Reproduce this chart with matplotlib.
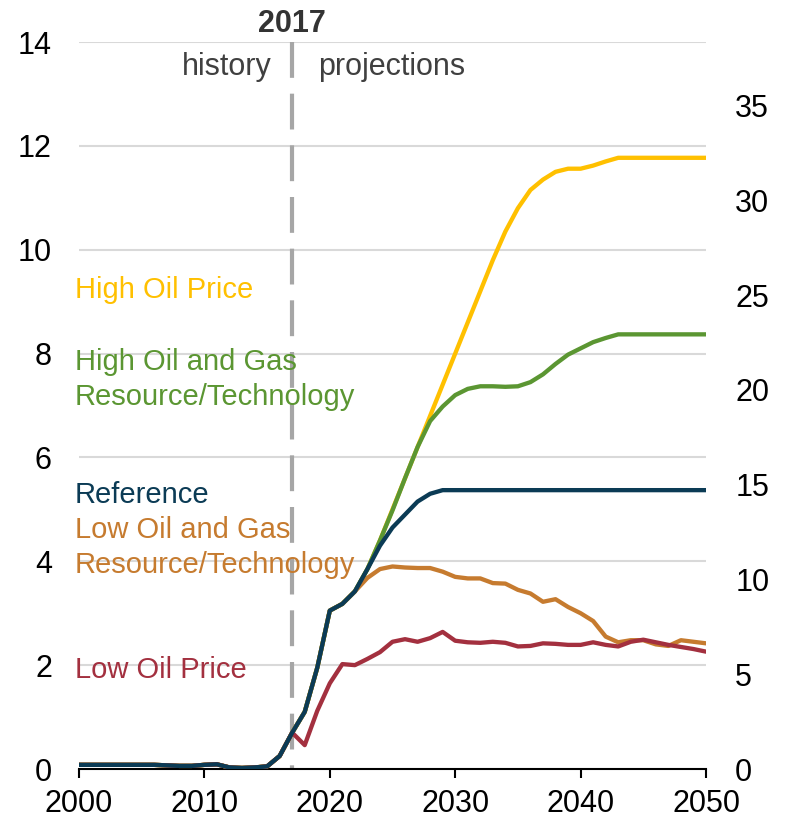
import matplotlib
matplotlib.use("Agg")
import matplotlib.pyplot as plt

plt.rcParams['font.family'] = ['Liberation Sans', 'DejaVu Sans']

years = list(range(2000, 2051))

history = [0.08, 0.08, 0.08, 0.08, 0.08, 0.08, 0.08, 0.07, 0.06, 0.06,
           0.08, 0.09, 0.03, 0.02, 0.03, 0.05, 0.25, 0.70]

reference_proj = [1.10, 1.95, 3.05, 3.18, 3.42, 3.85, 4.30, 4.65, 4.90, 5.15,
                  5.30, 5.37, 5.37, 5.37, 5.37, 5.37, 5.37, 5.37, 5.37, 5.37,
                  5.37, 5.37, 5.37, 5.37, 5.37, 5.37, 5.37, 5.37, 5.37, 5.37,
                  5.37, 5.37, 5.37]

low_ogr_proj = [1.10, 1.95, 3.05, 3.18, 3.42, 3.68, 3.85, 3.90, 3.88, 3.87,
                3.87, 3.80, 3.70, 3.67, 3.67, 3.58, 3.57, 3.45, 3.38, 3.22,
                3.27, 3.12, 3.00, 2.85, 2.55, 2.44, 2.48, 2.48, 2.40, 2.37,
                2.48, 2.45, 2.42]

low_price_proj = [0.46, 1.12, 1.65, 2.02, 2.00, 2.12, 2.25, 2.45, 2.50, 2.45,
                  2.52, 2.64, 2.47, 2.44, 2.43, 2.45, 2.43, 2.36, 2.37, 2.42,
                  2.41, 2.39, 2.39, 2.44, 2.39, 2.36, 2.45, 2.49, 2.44, 2.39,
                  2.35, 2.31, 2.26]

high_ogr_proj = [1.10, 1.95, 3.05, 3.18, 3.42, 3.85, 4.40, 4.98, 5.60, 6.20,
                 6.70, 6.98, 7.20, 7.32, 7.37, 7.37, 7.36, 7.37, 7.45, 7.60,
                 7.80, 7.98, 8.10, 8.22, 8.30, 8.37, 8.37, 8.37, 8.37, 8.37,
                 8.37, 8.37, 8.37]

high_price_proj = [1.10, 1.95, 3.05, 3.18, 3.42, 3.85, 4.40, 5.00, 5.60, 6.20,
                   6.80, 7.40, 8.00, 8.60, 9.20, 9.80, 10.35, 10.80, 11.15, 11.35,
                   11.50, 11.56, 11.56, 11.62, 11.70, 11.77, 11.77, 11.77, 11.77, 11.77,
                   11.77, 11.77, 11.77]

series = [
    ("High Oil Price", high_price_proj, "#FFC000"),
    ("High Oil and Gas\nResource/Technology", high_ogr_proj, "#5B9632"),
    ("Low Oil and Gas\nResource/Technology", low_ogr_proj, "#C67B2F"),
    ("Low Oil Price", low_price_proj, "#A3303F"),
    ("Reference", reference_proj, "#0B3B55"),
]
# baseline of each label line (left-axis units)
label_pos = {
    "High Oil Price": [9.07],
    "High Oil and Gas\nResource/Technology": [7.68, 7.01],
    "Reference": [5.12],
    "Low Oil and Gas\nResource/Technology": [4.45, 3.77],
    "Low Oil Price": [1.75],
}

left_ticks = [0, 2, 4, 6, 8, 10, 12, 14]
right_ticks = [0, 5, 10, 15, 20, 25, 30, 35]
x_ticks = [2000, 2010, 2020, 2030, 2040, 2050]
divider_year = 2017

fig = plt.figure(figsize=(7.88, 8.22), dpi=100)
ax = fig.add_axes([79/788, 53/822, 627/788, 727/822])
ax.set_xlim(2000, 2050)
ax.set_ylim(0, 14)

for v in left_ticks[1:]:
    ax.axhline(v, color="#D9D9D9", lw=1.5, zorder=0)

ax.plot([divider_year, divider_year], [14, 0], color="#A6A6A6", lw=3,
        dashes=(8.6, 3.8), zorder=1, clip_on=False)

for name, proj, color in series:
    vals = history + proj
    ax.plot(years, vals, color=color, lw=3.1,
            solid_capstyle="round", solid_joinstyle="round", zorder=3)

label_colors = {n: c for n, _, c in series}
for name, ys in label_pos.items():
    for line, y in zip(name.split("\n"), ys):
        ax.text(1999.65, y, line, color=label_colors[name], fontsize=21,
                ha="left", va="baseline", zorder=4)

ax.text(divider_year, 14.19, "2017", fontsize=22, fontweight="bold",
        color="#333333", ha="center", va="baseline")
ax.text(divider_year - 1.6, 13.37, "history", fontsize=22, color="#404040",
        ha="right", va="baseline")
ax.text(divider_year + 2.1, 13.37, "projections", fontsize=22, color="#404040",
        ha="left", va="baseline")

ax.set_xticks(x_ticks)
ax.set_yticks(left_ticks)
ax.tick_params(axis="x", direction="out", length=6.5, width=1.5, pad=8,
               labelsize=22, colors="black")
ax.tick_params(axis="y", length=0, pad=19.5, labelsize=22)
for s in ["top", "right", "left"]:
    ax.spines[s].set_visible(False)
ax.spines["bottom"].set_linewidth(1.5)

ax2 = ax.twinx()
ax2.set_ylim(0, 14 * 1000 / 365)
ax2.set_yticks(right_ticks)
ax2.tick_params(axis="y", length=0, pad=21, labelsize=22)
for s in ["top", "right", "left", "bottom"]:
    ax2.spines[s].set_visible(False)

fig.savefig("out.png", dpi=100)
